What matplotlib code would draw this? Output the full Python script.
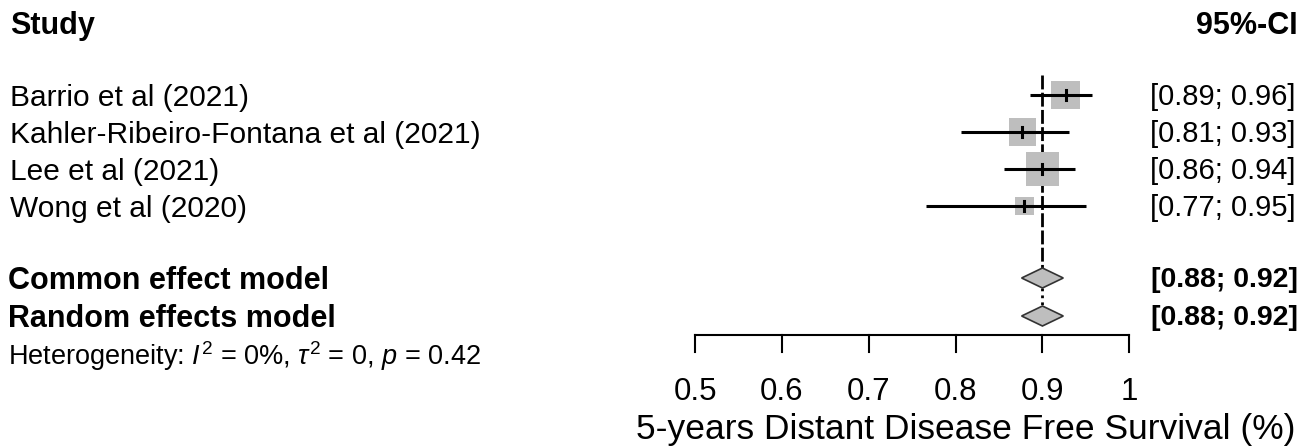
import numpy as np
import matplotlib.pyplot as plt
from matplotlib.patches import Polygon

plt.rcParams['font.family'] = ['Liberation Sans', 'DejaVu Sans']
plt.rcParams['mathtext.fontset'] = 'custom'
plt.rcParams['mathtext.rm'] = 'Liberation Sans'
plt.rcParams['mathtext.it'] = 'Liberation Sans:italic'

# study data
studies = ["Barrio et al (2021)", "Kahler-Ribeiro-Fontana et al (2021)",
           "Lee et al (2021)", "Wong et al (2020)"]
est = [0.927, 0.877, 0.900, 0.879]
lower = [0.886, 0.806, 0.856, 0.766]
upper = [0.957, 0.931, 0.937, 0.950]
weights = [27.1, 24.5, 36.8, 11.6]

# pooled estimates
models = ["Common effect model", "Random effects model"]
pooled_est = [0.900, 0.900]
pooled_lower = [0.876, 0.876]
pooled_upper = [0.924, 0.924]

ticks = [0.5, 0.6, 0.7, 0.8, 0.9, 1]
tick_labels = ["0.5", "0.6", "0.7", "0.8", "0.9", "1"]
xlab = "5-years Distant Disease Free Survival (%)"

W, H = 1312, 447
fig = plt.figure(figsize=(W / 100, H / 100), dpi=100)
ax = fig.add_axes([0, 0, 1, 1])
px = 868.6  # pixels per unit on the effect scale
x0 = 695    # pixel position of 0.5
ax.set_xlim(0.5 - x0 / px, 0.5 + (W - x0) / px)
ax.set_ylim(H, 0)
ax.axis('off')
tr = ax.get_yaxis_transform()

fs = 21.5
grey = '#bebebe'

# header
ax.text(10 / W, 26, "Study", transform=tr, fontsize=22, fontweight='bold', va='center', ha='left')
ax.text(1298 / W, 26, "95%-CI", transform=tr, fontsize=22, fontweight='bold', va='center', ha='right')

# study rows
row_y = 95 + 37 * np.arange(len(studies))
for y, name, e, lo, hi, w in zip(row_y, studies, est, lower, upper, weights):
    ax.text(10 / W, y + 3, name, transform=tr, fontsize=fs, va='center', ha='left')
    ax.text(1296 / W, y + 2, f"[{lo:.2f}; {hi:.2f}]", transform=tr, fontsize=21, va='center', ha='right')
    ax.scatter([e], [y], s=16 * w, marker='s', color=grey, edgecolors='none', zorder=2)
    ax.plot([lo, hi], [y, y], color='black', lw=2.2, zorder=3, solid_capstyle='butt')
    ax.plot([e, e], [y - 5, y + 5], color='black', lw=2.2, zorder=3)

# pooled rows
pool_y = [278, 316]
for y, name, e, lo, hi in zip(pool_y, models, pooled_est, pooled_lower, pooled_upper):
    ax.text(8 / W, y + 3, name, transform=tr, fontsize=22, fontweight='bold', va='center', ha='left')
    ax.text(1298 / W, y + 2, f"[{lo:.2f}; {hi:.2f}]", transform=tr, fontsize=20.5, fontweight='bold',
            va='center', ha='right')
    ax.add_patch(Polygon([[lo, y], [e, y - 10], [hi, y], [e, y + 10]], closed=True,
                         facecolor=grey, edgecolor='#333333', lw=1.2, zorder=3))

# reference lines at the pooled estimates
ax.plot([pooled_est[0]] * 2, [75, pool_y[0] - 10], color='black', lw=2, dashes=(5, 1.2), zorder=1)
ax.plot([pooled_est[1]] * 2, [pool_y[0] + 10, pool_y[1] - 10], color='black', lw=2,
        dashes=(1, 1.5), zorder=1)

ax.text(8 / W, 356, r"Heterogeneity: $I^2$ = 0%, $\tau^2$ = 0, $p$ = 0.42", transform=tr,
        fontsize=19.5, va='center', ha='left')

# x axis
ax.plot([ticks[0], ticks[-1]], [335, 335], color='black', lw=1.5)
for t, lab in zip(ticks, tick_labels):
    ax.plot([t, t], [335, 352], color='black', lw=1.5)
    ax.text(t, 392, lab, fontsize=22.5, va='center', ha='center')
ax.text(0.5 + (966 - x0) / px, 430, xlab, fontsize=25.5, va='center', ha='center')

fig.savefig('out.png', dpi=100)
